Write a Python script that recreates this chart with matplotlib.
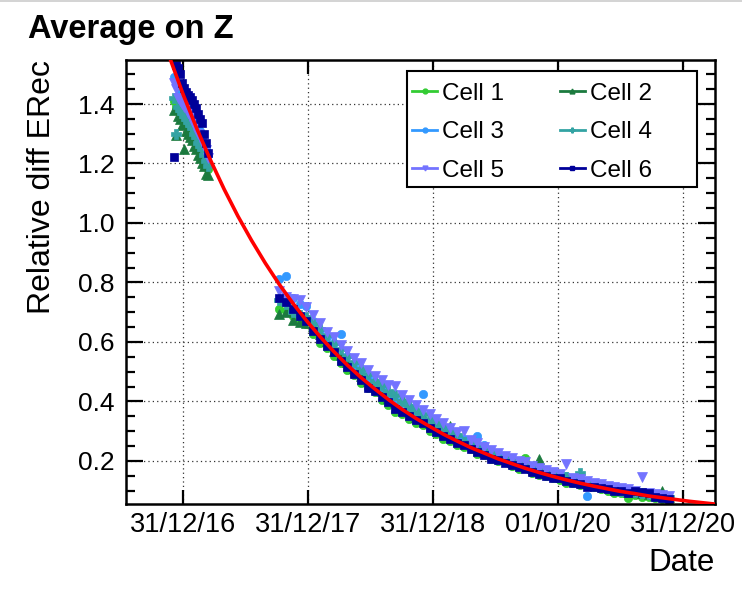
import numpy as np
import matplotlib
matplotlib.use("Agg")
import matplotlib.pyplot as plt
import matplotlib.dates as mdates
from matplotlib.lines import Line2D
from matplotlib.patches import Rectangle
from matplotlib.ticker import MultipleLocator, FormatStrFormatter

plt.rcParams['font.family'] = ['Liberation Sans', 'DejaVu Sans']

# day offsets from 31/12/2016 (two measurement periods)
start = np.datetime64('2016-12-31')
days = [-28, -22, -16, -10, -4, 2, 8, 14, 20, 26, 32, 38, 44, 50, 56, 62, 68, 74,
        280, 300, 320, 340, 360, 380, 400, 420, 440, 460, 480, 500, 520, 540, 560,
        580, 600, 620, 640, 660, 680, 700, 720, 740, 760, 780, 800, 820, 840, 860,
        880, 900, 920, 940, 960, 980, 1000, 1020, 1040, 1060, 1080, 1100, 1120,
        1140, 1160, 1180, 1200, 1220, 1240, 1260, 1280, 1300, 1320, 1340, 1360,
        1380, 1400, 1420]

cell1 = [1.41, 1.39, 1.38, 1.37, 1.355, 1.35, 1.34, 1.33, 1.32, 1.31, 1.29, 1.28, 1.26, 1.25, 1.24, 1.22, 1.20, 1.18,
         0.712, 0.705, 0.688, 0.672, 0.660, 0.628, 0.598, 0.578, 0.552, 0.528, 0.505, 0.488, 0.462, 0.445, 0.431,
         0.405, 0.388, 0.366, 0.356, 0.342, 0.328, 0.320, 0.302, 0.290, 0.273, 0.266, 0.255, 0.245, 0.240, 0.224,
         0.219, 0.206, 0.198, 0.212, 0.182, 0.174, 0.210, 0.160, 0.153, 0.150, 0.141, 0.135, 0.127,
         0.124, 0.119, 0.114, 0.112, 0.104, 0.100, 0.093, 0.092, 0.076, 0.084, 0.079, 0.077,
         0.074, 0.071, 0.068]
cell2 = [1.38, 1.295, 1.36, 1.35, 1.33, 1.248, 1.31, 1.30, 1.29, 1.28, 1.26, 1.25, 1.23, 1.22, 1.20, 1.19, 1.165, 1.16,
         0.695, 0.702, 0.675, 0.668, 0.665, 0.652, 0.628, 0.602, 0.569, 0.556, 0.532, 0.512, 0.486, 0.470, 0.452,
         0.436, 0.412, 0.398, 0.412, 0.368, 0.349, 0.352, 0.328, 0.319, 0.318, 0.318, 0.278, 0.266, 0.256, 0.246,
         0.231, 0.226, 0.216, 0.208, 0.196, 0.192, 0.185, 0.176, 0.205, 0.163, 0.156, 0.146, 0.144,
         0.138, 0.132, 0.127, 0.118, 0.117, 0.112, 0.108, 0.104, 0.095, 0.096, 0.092, 0.088,
         0.085, 0.100, 0.078]
cell3 = [1.49, 1.47, 1.46, 1.44, 1.43, 1.42, 1.41, 1.395, 1.38, 1.37, 1.35, 1.34, 1.32, 1.31, 1.29, 1.27, 1.25, 1.23,
         0.812, 0.820, 0.748, 0.728, 0.722, 0.670, 0.640, 0.618, 0.598, 0.628, 0.552, 0.522, 0.505, 0.480, 0.465,
         0.448, 0.426, 0.405, 0.395, 0.380, 0.364, 0.425, 0.335, 0.322, 0.303, 0.302, 0.285, 0.274, 0.263, 0.283,
         0.252, 0.234, 0.224, 0.215, 0.207, 0.198, 0.184, 0.182, 0.175, 0.168, 0.158, 0.154, 0.148,
         0.142, 0.136, 0.082, 0.126, 0.121, 0.109, 0.111, 0.107, 0.103, 0.099, 0.090, 0.091,
         0.087, 0.083, 0.080]
cell4 = [1.42, 1.30, 1.39, 1.38, 1.37, 1.36, 1.35, 1.34, 1.33, 1.32, 1.30, 1.29, 1.27, 1.26, 1.25, 1.23, 1.21, 1.19,
         0.742, 0.728, 0.702, 0.690, 0.683, 0.660, 0.645, 0.622, 0.598, 0.575, 0.553, 0.532, 0.510, 0.492, 0.468,
         0.455, 0.436, 0.420, 0.402, 0.384, 0.372, 0.356, 0.342, 0.330, 0.316, 0.300, 0.288, 0.263, 0.258, 0.248,
         0.238, 0.229, 0.214, 0.210, 0.202, 0.194, 0.186, 0.178, 0.171, 0.159, 0.157, 0.150, 0.145,
         0.139, 0.160, 0.128, 0.123, 0.118, 0.113, 0.108, 0.100, 0.100, 0.096, 0.092, 0.088,
         0.085, 0.081, 0.078]
cell5 = [1.47, 1.45, 1.42, 1.41, 1.40, 1.39, 1.385, 1.37, 1.36, 1.345, 1.33, 1.32, 1.30, 1.29, 1.28, 1.26, 1.245, 1.22,
         0.770, 0.752, 0.745, 0.741, 0.717, 0.690, 0.665, 0.635, 0.618, 0.591, 0.570, 0.545, 0.530, 0.507, 0.487,
         0.473, 0.454, 0.451, 0.423, 0.405, 0.388, 0.371, 0.358, 0.341, 0.326, 0.310, 0.297, 0.302, 0.271, 0.260,
         0.248, 0.238, 0.227, 0.218, 0.209, 0.200, 0.195, 0.184, 0.176, 0.170, 0.162, 0.156, 0.190,
         0.144, 0.138, 0.132, 0.124, 0.122, 0.117, 0.112, 0.108, 0.104, 0.100, 0.146, 0.092,
         0.088, 0.085, 0.081]
cell6 = [1.222, 1.53, 1.52, 1.50, 1.47, 1.455, 1.44, 1.43, 1.425, 1.415, 1.40, 1.385, 1.365, 1.35, 1.335, 1.30, 1.27, 1.235,
         0.748, 0.735, 0.712, 0.688, 0.672, 0.638, 0.610, 0.585, 0.566, 0.536, 0.515, 0.492, 0.472, 0.446, 0.436,
         0.416, 0.398, 0.376, 0.366, 0.350, 0.336, 0.326, 0.309, 0.297, 0.285, 0.272, 0.261, 0.254, 0.240, 0.230,
         0.220, 0.208, 0.202, 0.194, 0.186, 0.178, 0.174, 0.163, 0.157, 0.150, 0.144, 0.141, 0.132,
         0.127, 0.122, 0.113, 0.112, 0.108, 0.104, 0.099, 0.098, 0.091, 0.098, 0.096, 0.092,
         0.080, 0.074, 0.071]

# fitted curve
fit_days = [-40, 0, 40, 80, 120, 160, 200, 240, 280, 320, 360, 400, 440, 480, 520,
            560, 600, 640, 680, 720, 760, 800, 840, 880, 920, 960, 1000, 1040, 1080,
            1120, 1160, 1200, 1240, 1280, 1320, 1360, 1400, 1440, 1480, 1520, 1560]
fit_vals = [1.558, 1.432, 1.317, 1.211, 1.113, 1.023, 0.941, 0.865, 0.795, 0.731, 0.672,
            0.618, 0.568, 0.522, 0.480, 0.442, 0.406, 0.373, 0.343, 0.316, 0.290, 0.267,
            0.245, 0.226, 0.207, 0.191, 0.175, 0.161, 0.148, 0.136, 0.125, 0.115, 0.106,
            0.097, 0.090, 0.082, 0.076, 0.070, 0.064, 0.059, 0.054]

labels = ['Cell 1', 'Cell 2', 'Cell 3', 'Cell 4', 'Cell 5', 'Cell 6']
series = [cell1, cell2, cell3, cell4, cell5, cell6]
colors = ['#33cc33', '#1b7a3e', '#3399ff', '#33a3a3', '#7373ff', '#000099']
markers = ['o', '^', 'o', 'P', 'v', 's']
msizes = [6, 6.5, 6, 6.5, 6.5, 6]

tick_dates = ['2016-12-31', '2017-12-31', '2018-12-31', '2020-01-01', '2020-12-31']

x = start + np.array(days).astype('timedelta64[D]')
xfit = start + np.array(fit_days).astype('timedelta64[D]')

fig = plt.figure(figsize=(7.42, 5.91), dpi=100)
ax = fig.add_axes([0.1698, 0.1472, 0.7938, 0.7513])

for vals, c, m, s in zip(series, colors, markers, msizes):
    ax.plot(x, vals, ls='none', marker=m, ms=s, color=c, mec=c, mew=0.5)

ax.plot(xfit, fit_vals, color='red', lw=2.6, zorder=5)

ax.set_xlim(np.datetime64('2016-07-17'), np.datetime64('2021-04-03'))
ax.set_ylim(0.055, 1.548)
ax.set_xticks(np.array(tick_dates, dtype='datetime64[D]'))
ax.xaxis.set_major_formatter(mdates.DateFormatter('%d/%m/%y'))
ax.yaxis.set_major_locator(MultipleLocator(0.2))
ax.yaxis.set_minor_locator(MultipleLocator(0.05))
ax.yaxis.set_major_formatter(FormatStrFormatter('%.1f'))

ax.grid(True, which='major', ls=(0, (1, 2.5)), color='#333333', lw=0.9)
ax.tick_params(which='both', direction='in', top=True, right=True, width=1.6)
ax.tick_params(axis='y', which='major', length=12, labelsize=19, pad=8)
ax.tick_params(axis='y', which='minor', length=6.5)
ax.tick_params(axis='x', which='major', length=10, labelsize=19.5, pad=6)
for sp in ax.spines.values():
    sp.set_linewidth(1.8)

ax.set_ylabel('Relative diff ERec', fontsize=23, loc='top')
ax.yaxis.set_label_coords(-0.117, 1.0)
ax.set_xlabel('Date', fontsize=22.5, loc='right')
ax.xaxis.set_label_coords(1.0, -0.10)

fig.text(0.0377, 0.9357, 'Average on Z', fontsize=23.5, fontweight='bold',
         ha='left', va='baseline')

# ROOT-like legend box (wider than its entries), entries filled row by row
ax.add_patch(Rectangle((0.4771, 0.714), 0.4924, 0.2613, transform=ax.transAxes,
                       facecolor='white', edgecolor='black', lw=1.5, zorder=6))
order = [0, 2, 4, 1, 3, 5]
handles = [Line2D([], [], color=colors[i], marker=markers[i], ms=3.5, lw=2) for i in order]
leg = ax.legend(handles, [labels[i] for i in order], ncol=2, loc='upper left',
                bbox_to_anchor=(0.4771, 0.960), frameon=False, fontsize=17.5,
                borderpad=0.2, labelspacing=0.68, handlelength=1.05,
                handletextpad=0.18, columnspacing=2.3, borderaxespad=0)
leg.set_zorder(7)

fig.add_artist(Line2D([0, 1], [0.998, 0.998], transform=fig.transFigure,
                      color='#cccccc', lw=1.2))

fig.savefig('out.png', dpi=100)
